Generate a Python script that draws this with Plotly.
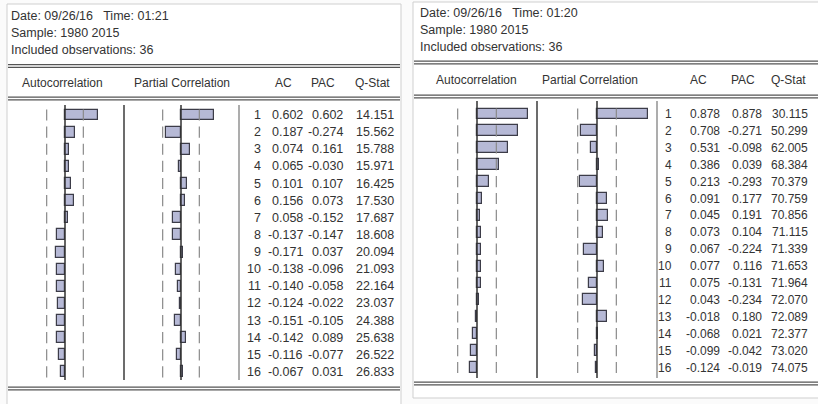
import plotly.graph_objects as go

# Correlogram values, lags 1..16
lags = list(range(1, 17))
n_obs = 36

ac_left = [0.602, 0.187, 0.074, 0.065, 0.101, 0.156, 0.058, -0.137,
           -0.171, -0.138, -0.140, -0.124, -0.151, -0.142, -0.116, -0.067]
pac_left = [0.602, -0.274, 0.161, -0.030, 0.107, 0.073, -0.152, -0.147,
            0.037, -0.096, -0.058, -0.022, -0.105, 0.089, -0.077, 0.031]
q_left = [14.151, 15.562, 15.788, 15.971, 16.425, 17.530, 17.687, 18.608,
          20.094, 21.093, 22.164, 23.037, 24.388, 25.638, 26.522, 26.833]

ac_right = [0.878, 0.708, 0.531, 0.386, 0.213, 0.091, 0.045, 0.073,
            0.067, 0.077, 0.075, 0.043, -0.018, -0.068, -0.099, -0.124]
pac_right = [0.878, -0.271, -0.098, 0.039, -0.293, 0.177, 0.191, 0.104,
             -0.224, 0.116, -0.131, -0.234, 0.180, 0.021, -0.042, -0.019]
q_right = [30.115, 50.299, 62.005, 68.384, 70.379, 70.759, 70.856, 71.115,
           71.339, 71.653, 71.964, 72.070, 72.089, 72.377, 73.020, 74.075]

header_left = ["Date: 09/26/16\u00a0\u00a0 Time: 01:21", "Sample: 1980 2015",
               "Included observations: 36"]
header_right = ["Date: 09/26/16\u00a0\u00a0 Time: 01:20", "Sample: 1980 2015",
                "Included observations: 36"]
col_titles = ["Autocorrelation", "Partial Correlation", "AC", "PAC", "Q-Stat"]

W, H = 818, 404
FONT = "Liberation Sans, Arial, sans-serif"
TXT = "#333333"
BAR_FILL = "#b6b9d6"
BAR_EDGE = "#3c3c48"
bound = 2 / n_obs ** 0.5


def px(x):
    return x / W


def py(y):
    return 1 - y / H


fig = go.Figure()
shapes = []
annotations = []

panels = [
    dict(ac=ac_left, pac=pac_left, q=q_left, header=header_left,
         frame=(7, 4, 401, 410), hdr_x=9, hdr_y=(16, 33, 50),
         dl=(66, 98.5, 388.5), title_y=83,
         row1=115, step=17.13, scale=55,
         ac_zero=65, pac_zero=181, seps=(124, 239), vtop=105, vbot=380,
         title_x=(63, 182, 283, 323, 372),
         num_x=(263, 305, 345, 396), num_size=12.5),
    dict(ac=ac_right, pac=pac_right, q=q_right, header=header_right,
         frame=(413, 2, 830, 398), hdr_x=418, hdr_y=(13, 30, 47),
         dl=(62.5, 96.5, 383.5), title_y=80,
         row1=114, step=16.9, scale=58,
         ac_zero=477, pac_zero=597, seps=(537, 657), vtop=101, vbot=378,
         title_x=(476, 590, 698, 743, 788),
         num_x=(674, 722, 764, 810), num_size=12),
]

axis_idx = 0
for p in panels:
    x0, y0, x1, y1 = p["frame"]
    # panel frame
    shapes.append(dict(type="rect", xref="paper", yref="paper",
                       x0=px(x0), x1=px(x1), y0=py(y0), y1=py(y1),
                       line=dict(color="#cfcfcf", width=1), fillcolor="white",
                       layer="below"))
    # double rules
    for yy in p["dl"]:
        for off in (-1.4, 1.4):
            shapes.append(dict(type="line", xref="paper", yref="paper",
                               x0=px(x0 + 1), x1=px(x1 - 1),
                               y0=py(yy + off), y1=py(yy + off),
                               line=dict(color="#555555", width=1.4)))
    # header lines
    for t, yy in zip(p["header"], p["hdr_y"]):
        annotations.append(dict(text=t, xref="paper", yref="paper",
                                x=px(p["hdr_x"]), y=py(yy), xanchor="left",
                                yanchor="middle", showarrow=False,
                                font=dict(family=FONT, size=12.5, color=TXT)))
    # column titles
    for t, xx in zip(col_titles, p["title_x"]):
        annotations.append(dict(text=t, xref="paper", yref="paper",
                                x=px(xx), y=py(p["title_y"]), xanchor="center",
                                yanchor="middle", showarrow=False,
                                font=dict(family=FONT, size=12, color=TXT)))
    # column separators
    for i, sx in enumerate(p["seps"]):
        shapes.append(dict(type="line", xref="paper", yref="paper",
                           x0=px(sx), x1=px(sx), y0=py(p["vtop"]), y1=py(p["vbot"]),
                           line=dict(color="#6c6c6c" if i == 0 else "#8a8a8a",
                                     width=2 if i == 0 else 1.4)))

    # lag value at a given pixel row
    def lag_at(y, p=p):
        return 1 + (y - p["row1"]) / p["step"]

    yrange = [lag_at(p["vbot"]), lag_at(p["vtop"])]
    for key, zero, left_px, right_px in (("ac", p["ac_zero"], p["ac_zero"] - 52, p["ac_zero"] + 56),
                                         ("pac", p["pac_zero"], p["pac_zero"] - 52, p["pac_zero"] + 56)):
        axis_idx += 1
        xa = "x" if axis_idx == 1 else f"x{axis_idx}"
        ya = "y" if axis_idx == 1 else f"y{axis_idx}"
        xr = [(left_px - zero) / p["scale"], (right_px - zero) / p["scale"]]
        fig.add_trace(go.Bar(x=p[key], y=lags, orientation="h", width=0.64,
                             marker=dict(color=BAR_FILL,
                                         line=dict(color=BAR_EDGE, width=1.2)),
                             xaxis=xa, yaxis=ya, showlegend=False,
                             hoverinfo="skip"))
        # +/- two standard error marks
        for s in (-1, 1):
            fig.add_trace(go.Scatter(x=[s * bound] * len(lags), y=lags, mode="markers",
                                     marker=dict(symbol="line-ns", size=8,
                                                 line=dict(color="#8a8a8a", width=1.2)),
                                     xaxis=xa, yaxis=ya, showlegend=False,
                                     hoverinfo="skip"))
        # zero line
        shapes.append(dict(type="line", xref=xa, yref=f"{ya} domain",
                           x0=0, x1=0, y0=0, y1=1,
                           line=dict(color="#303030", width=1.5)))
        dom_x = [px(left_px), px(right_px)]
        dom_y = [py(p["vbot"]), py(p["vtop"])]
        suffix = "" if axis_idx == 1 else str(axis_idx)
        fig.layout["xaxis" + suffix] = dict(domain=dom_x, range=xr, visible=False,
                                            fixedrange=True, anchor=ya)
        fig.layout["yaxis" + suffix] = dict(domain=dom_y, range=yrange, visible=False,
                                            fixedrange=True, anchor=xa)

    # numeric table
    for i, lag in enumerate(lags):
        yy = p["row1"] + i * p["step"]
        cells = [str(lag), f"{p['ac'][i]:.3f}", f"{p['pac'][i]:.3f}", f"{p['q'][i]:.3f}"]
        for t, xx in zip(cells, p["num_x"]):
            annotations.append(dict(text=t, xref="paper", yref="paper",
                                    x=px(xx), y=py(yy), xanchor="right",
                                    yanchor="middle", showarrow=False,
                                    font=dict(family=FONT, size=p["num_size"], color=TXT)))

fig.update_layout(width=W, height=H, margin=dict(l=0, r=0, t=0, b=0),
                  paper_bgcolor="#fbfbfb", plot_bgcolor="rgba(0,0,0,0)",
                  shapes=shapes, annotations=annotations, bargap=0,
                  showlegend=False)

fig.write_html("out.html", config={"displayModeBar": False})
